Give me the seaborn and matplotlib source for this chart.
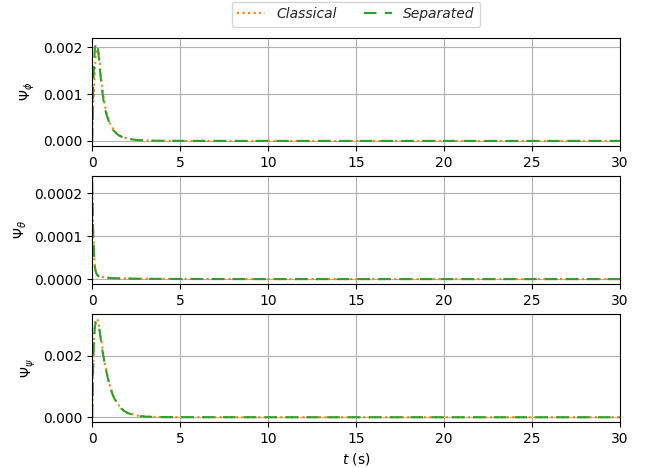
import numpy as np
import pandas as pd
import matplotlib
matplotlib.use("Agg")
import matplotlib.pyplot as plt
import seaborn as sns

sns.set_style("ticks")
plt.rcParams.update({
    "axes.grid": True,
    "grid.color": "#b0b0b0",
    "grid.linewidth": 0.8,
    "axes.edgecolor": "black",
    "xtick.color": "black",
    "ytick.color": "black",
    "axes.labelcolor": "black",
    "font.family": ["DejaVu Sans"],
    "font.size": 10,
})

# time samples (s)
t = [0, 0.05, 0.1, 0.15, 0.2, 0.25, 0.3, 0.35, 0.4, 0.5, 0.6, 0.7, 0.8, 1.0,
     1.2, 1.4, 1.6, 1.8, 2.0, 2.5, 3.0, 3.5, 4.0, 5.0, 10.0, 20.0, 30.0]

# Psi_phi
phi_classical = [0, 0.0006, 0.0011, 0.0015, 0.0018, 0.00192, 0.00195, 0.00192, 0.00182,
                 0.0014, 0.00108, 0.00082, 0.00063, 0.00039, 0.00025, 0.00016, 0.00011,
                 0.000075, 0.000052, 0.000022, 0.00001, 0.000005, 0.000003, 0.000001, 0, 0, 0]
phi_separated = [0, 0.0009, 0.0016, 0.00195, 0.00208, 0.0021, 0.00205, 0.0019, 0.0017,
                 0.0013, 0.00098, 0.00075, 0.00058, 0.00036, 0.00023, 0.00015, 0.0001,
                 0.00007, 0.00005, 0.00002, 0.00001, 0.000005, 0.000003, 0.000001, 0, 0, 0]

# Psi_theta
theta_classical = [0.000228, 0.00013, 0.000065, 0.000033, 0.00002, 0.000013, 0.00001,
                   0.000008, 0.0000065, 0.0000055, 0.0000045, 0.000004, 0.0000035,
                   0.000003, 0.0000025, 0.000002, 0.0000017, 0.0000015, 0.0000013,
                   0.000001, 0.0000008, 0.0000006, 0.0000005, 0.0000003, 0, 0, 0]
theta_separated = [0.000225, 0.00012, 0.00006, 0.00003, 0.000018, 0.000012, 0.000009,
                   0.000007, 0.000006, 0.000005, 0.000004, 0.0000035, 0.000003,
                   0.0000025, 0.000002, 0.0000017, 0.0000015, 0.0000013, 0.0000012,
                   0.0000009, 0.0000007, 0.0000005, 0.0000004, 0.0000002, 0, 0, 0]

# Psi_psi
psi_classical = [0, 0.0013, 0.0024, 0.0030, 0.00318, 0.0032, 0.00318, 0.0031, 0.00295,
                 0.0026, 0.0022, 0.00185, 0.00155, 0.00105, 0.00072, 0.00049, 0.00033,
                 0.00022, 0.00015, 0.00006, 0.000025, 0.000012, 0.000006, 0.000002, 0, 0, 0]
psi_separated = [0, 0.0015, 0.0025, 0.0029, 0.0031, 0.00312, 0.0031, 0.0030, 0.0029,
                 0.0025, 0.0021, 0.0018, 0.0015, 0.0010, 0.00068, 0.00046, 0.00031,
                 0.00021, 0.00014, 0.00005, 0.00002, 0.00001, 0.000005, 0.000002, 0, 0, 0]

panels = [
    (r"$\Psi_\phi$", phi_classical, phi_separated),
    (r"$\Psi_\theta$", theta_classical, theta_separated),
    (r"$\Psi_\psi$", psi_classical, psi_separated),
]

fig, axes = plt.subplots(3, 1, figsize=(6.49, 4.68), dpi=100)
fig.subplots_adjust(left=0.142, right=0.955, top=0.919, bottom=0.098, hspace=0.28)

for ax, (label, classical, separated) in zip(axes, panels):
    sns.lineplot(x=t, y=classical, ax=ax, color="#ff7f0e", linestyle=":",
                 linewidth=1.5, label="Classical")
    sns.lineplot(x=t, y=separated, ax=ax, color="#2ca02c", linestyle=(0, (6, 4)),
                 linewidth=1.5, label="Separated")
    ax.set_xlim(0, 30)
    ax.set_xticks([0, 5, 10, 15, 20, 25, 30])
    ax.set_ylabel(label)
    ax.legend_.remove()
    for s in ax.spines.values():
        s.set_visible(True)
        s.set_linewidth(0.8)

axes[0].set_yticks([0.0, 0.001, 0.002])
axes[0].yaxis.set_major_formatter(matplotlib.ticker.FormatStrFormatter("%.3f"))
axes[1].set_yticks([0.0, 0.0001, 0.0002])
axes[1].yaxis.set_major_formatter(matplotlib.ticker.FormatStrFormatter("%.4f"))
axes[2].set_yticks([0.0, 0.002])
axes[2].yaxis.set_major_formatter(matplotlib.ticker.FormatStrFormatter("%.3f"))
axes[2].set_xlabel(r"$t$ (s)")

handles, labels = axes[0].get_legend_handles_labels()
leg = axes[0].legend(handles, labels, loc="lower center", bbox_to_anchor=(0.5, 1.04),
                     ncol=2, frameon=True, prop={"style": "italic"})

fig.savefig("out.png", dpi=100)
